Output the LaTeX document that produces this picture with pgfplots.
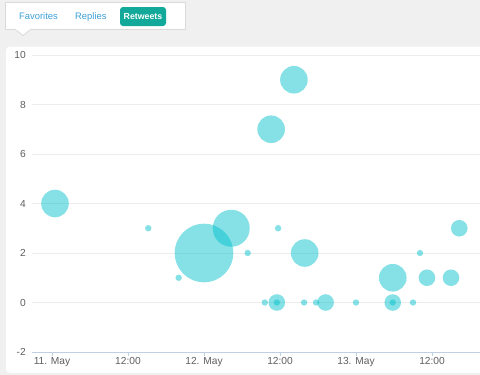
\documentclass[border=0pt]{standalone}
\usepackage{pgfplots}
\pgfplotsset{compat=1.18}
\usepackage{fontspec}
\setmainfont{Liberation Sans}
\definecolor{bgc}{RGB}{240,240,240}
\definecolor{bub}{RGB}{0,193,203}
\definecolor{gridc}{RGB}{236,236,236}
\definecolor{axc}{RGB}{192,208,224}
\definecolor{labc}{RGB}{96,96,96}
\definecolor{tabc}{RGB}{60,160,215}
\definecolor{btnc}{RGB}{18,168,154}
\definecolor{tabborder}{RGB}{218,218,218}
\begin{document}
\begin{tikzpicture}
\useasboundingbox (0pt,0pt) rectangle (480pt,-375pt);
\clip (0pt,0pt) rectangle (480pt,-375pt);
\begin{scope}[x=1pt,y=1pt]
\fill[bgc] (0,0) rectangle (480,-375);
\fill[white, rounded corners=4pt] (6,-46.5) rectangle (500,-373);
\draw[tabborder, fill=white, line width=0.8pt] (5,-2.5) rectangle (185,-29);
\filldraw[fill=white, draw=tabborder, line width=0.8pt] (15,-29) -- (23,-35.5) -- (31,-29);
\draw[white, line width=1.2pt] (15.8,-29) -- (30.2,-29);
\node[anchor=base west, inner sep=0pt, text=tabc, font=\fontsize{9.4}{11}\selectfont] at (19,-19) {Favorites};
\node[anchor=base west, inner sep=0pt, text=tabc, font=\fontsize{9.4}{11}\selectfont] at (75,-19) {Replies};
\fill[btnc, rounded corners=3pt] (120,-7) rectangle (166,-26);
\node[anchor=base, inner sep=0pt, text=white, font=\bfseries\fontsize{8.8}{11}\selectfont] at (143,-19) {Retweets};
\end{scope}
\begin{axis}[
  at={(32pt,-352pt)}, anchor=south west,
  scale only axis, width=460pt, height=297pt,
  xmin=-3.158, xmax=69.47, ymin=-2, ymax=10,
  axis line style={draw=none},
  ytick={-2,0,...,10},
  xtick={0,12,24,36,48,60},
  xticklabels={11. May,12:00,12. May,12:00,13. May,12:00},
  ymajorgrids, grid style={gridc, line width=0.8pt},
  xtick pos=left,
  tick align=outside,
  xtick style={axc, line width=0.8pt},
  major tick length=4pt,
  ytick style={draw=none},
  ticklabel style={font=\fontsize{10.2}{12}\selectfont, text=labc},
  yticklabel style={anchor=east, inner sep=0pt, xshift=-2pt},
  xticklabel style={anchor=north, inner sep=0pt, yshift=-1.5pt},
  /pgf/number format/assume math mode=true,
  clip=false,
]
\draw[axc, line width=0.8pt] (rel axis cs:0,0) -- (rel axis cs:1,0);
\addplot[scatter, only marks, mark=*,
  scatter/use mapped color={draw=bub, fill=bub},
  mark options={fill opacity=0.48, draw opacity=0},
  visualization depends on={\thisrow{r}\as\rr},
  scatter/@pre marker code/.append style={/tikz/mark size=\rr}]
table[x=h,y=v] {
h v r
0.47 4 13.8
15.2 3 3.2
24.0 2 29.3
20.0 1 3.2
28.3 3 18.5
30.9 2 3.2
34.6 7 13.8
38.2 9 13.8
35.7 3 3.2
39.9 2 13.8
33.6 0 3.2
35.5 0 8.3
35.5 0 3.2
39.8 0 3.2
41.7 0 3.2
43.2 0 8.3
48.0 0 3.2
53.8 0 8.3
53.8 0 3.2
53.8 1 13.8
57.0 0 3.2
58.1 2 3.2
59.2 1 8.3
63.0 1 8.3
64.3 3 8.3
};
\end{axis}
\end{tikzpicture}
\end{document}
